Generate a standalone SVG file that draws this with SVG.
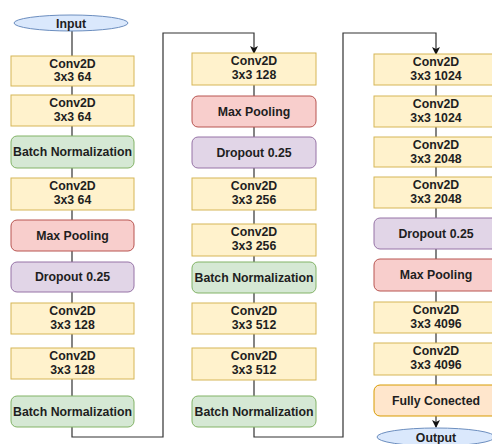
<svg xmlns="http://www.w3.org/2000/svg" width="492" height="444" viewBox="0 0 492 444">
  <style>
    .conv { fill: #fff2cc; stroke: #d6b656; stroke-width: 1; }
    .bn   { fill: #d5e8d4; stroke: #82b366; stroke-width: 1; }
    .pool { fill: #f8cecc; stroke: #b85450; stroke-width: 1; }
    .drop { fill: #e1d5e7; stroke: #9673a6; stroke-width: 1; }
    .fc   { fill: #ffe6cc; stroke: #d79b00; stroke-width: 1; }
    .io   { fill: #dae8fc; stroke: #6c8ebf; stroke-width: 1; }
    text  { font-family: "Liberation Sans", Arial, Helvetica, sans-serif; font-weight: bold; font-size: 12.3px; fill: #1e1e1e; text-anchor: middle; }
    .edge { fill: none; stroke: #333333; stroke-width: 1.2; }
  </style>
  <defs>
    <marker id="arrow" markerWidth="8" markerHeight="8" refX="7" refY="4" orient="auto" markerUnits="userSpaceOnUse">
      <path d="M0,0 L8,4 L0,8 L2,4 Z" fill="#111111"/>
    </marker>
  </defs>

  <rect width="492" height="444" fill="#ffffff"/>

  <!-- connectors -->
  <g id="connectors">
    <!-- column 1 chain -->
    <path class="edge" d="M72,31 V56 M72,86 V95 M72,126 V136 M72,168 V178 M72,210 V220 M72,251 V262 M72,292 V303 M72,334 V348 M72,379 V396"/>
    <!-- column 1 to column 2 -->
    <path class="edge" d="M72,427 V437 H163 V33 H254 V53" marker-end="url(#arrow)"/>
    <!-- column 2 chain -->
    <path class="edge" d="M254,85 V96 M254,127 V137 M254,168 V178 M254,210 V224 M254,256 V262 M254,293 V303 M254,334 V348 M254,380 V396"/>
    <!-- column 2 to column 3 -->
    <path class="edge" d="M254,427 V437 H343 V33 H436 V54" marker-end="url(#arrow)"/>
    <!-- column 3 chain -->
    <path class="edge" d="M436,85 V96 M436,127 V137 M436,167 V177 M436,208 V218 M436,249 V259 M436,291 V302 M436,333 V343 M436,375 V385"/>
    <path class="edge" d="M436,416 V427" marker-end="url(#arrow)"/>
  </g>

  <!-- column 1 -->
  <g id="input"><ellipse class="io" cx="71" cy="23" rx="57" ry="8"/><text x="71" y="27.5">Input</text></g>
  <g id="c1_conv1"><rect class="conv" x="11" y="56" width="123" height="30"/><text x="72.5" y="68">Conv2D</text><text x="72.5" y="81">3x3 64</text></g>
  <g id="c1_conv2"><rect class="conv" x="11" y="95" width="123" height="31"/><text x="72.5" y="107">Conv2D</text><text x="72.5" y="121">3x3 64</text></g>
  <g id="c1_bn1"><rect class="bn" x="11" y="136" width="123" height="32" rx="6"/><text x="72.5" y="156">Batch Normalization</text></g>
  <g id="c1_conv3"><rect class="conv" x="11" y="178" width="123" height="32"/><text x="72.5" y="190">Conv2D</text><text x="72.5" y="204">3x3 64</text></g>
  <g id="c1_pool"><rect class="pool" x="11" y="220" width="123" height="31" rx="6"/><text x="72.5" y="240">Max Pooling</text></g>
  <g id="c1_drop"><rect class="drop" x="11" y="262" width="123" height="30" rx="6"/><text x="72.5" y="281">Dropout 0.25</text></g>
  <g id="c1_conv4"><rect class="conv" x="11" y="303" width="123" height="31"/><text x="72.5" y="315">Conv2D</text><text x="72.5" y="329">3x3 128</text></g>
  <g id="c1_conv5"><rect class="conv" x="11" y="348" width="123" height="31"/><text x="72.5" y="360">Conv2D</text><text x="72.5" y="374">3x3 128</text></g>
  <g id="c1_bn2"><rect class="bn" x="11" y="396" width="123" height="31" rx="6"/><text x="72.5" y="416">Batch Normalization</text></g>

  <!-- column 2 -->
  <g id="c2_conv1"><rect class="conv" x="192" y="53" width="124" height="32"/><text x="254" y="65">Conv2D</text><text x="254" y="79">3x3 128</text></g>
  <g id="c2_pool"><rect class="pool" x="192" y="96" width="124" height="31" rx="6"/><text x="254" y="116">Max Pooling</text></g>
  <g id="c2_drop"><rect class="drop" x="192" y="137" width="124" height="31" rx="6"/><text x="254" y="157">Dropout 0.25</text></g>
  <g id="c2_conv2"><rect class="conv" x="192" y="178" width="124" height="32"/><text x="254" y="190">Conv2D</text><text x="254" y="204">3x3 256</text></g>
  <g id="c2_conv3"><rect class="conv" x="192" y="224" width="124" height="32"/><text x="254" y="236">Conv2D</text><text x="254" y="250">3x3 256</text></g>
  <g id="c2_bn1"><rect class="bn" x="192" y="262" width="124" height="31" rx="6"/><text x="254" y="282">Batch Normalization</text></g>
  <g id="c2_conv4"><rect class="conv" x="192" y="303" width="124" height="31"/><text x="254" y="315">Conv2D</text><text x="254" y="329">3x3 512</text></g>
  <g id="c2_conv5"><rect class="conv" x="192" y="348" width="124" height="32"/><text x="254" y="360">Conv2D</text><text x="254" y="374">3x3 512</text></g>
  <g id="c2_bn2"><rect class="bn" x="192" y="396" width="124" height="31" rx="6"/><text x="254" y="416">Batch Normalization</text></g>

  <!-- column 3 -->
  <g id="c3_conv1"><rect class="conv" x="374" y="54" width="124" height="31"/><text x="436" y="66">Conv2D</text><text x="436" y="80">3x3 1024</text></g>
  <g id="c3_conv2"><rect class="conv" x="374" y="96" width="124" height="31"/><text x="436" y="108">Conv2D</text><text x="436" y="122">3x3 1024</text></g>
  <g id="c3_conv3"><rect class="conv" x="374" y="137" width="124" height="30"/><text x="436" y="149">Conv2D</text><text x="436" y="163">3x3 2048</text></g>
  <g id="c3_conv4"><rect class="conv" x="374" y="177" width="124" height="31"/><text x="436" y="189">Conv2D</text><text x="436" y="203">3x3 2048</text></g>
  <g id="c3_drop"><rect class="drop" x="374" y="218" width="124" height="31" rx="6"/><text x="436" y="238">Dropout 0.25</text></g>
  <g id="c3_pool"><rect class="pool" x="374" y="259" width="124" height="32" rx="6"/><text x="436" y="279">Max Pooling</text></g>
  <g id="c3_conv5"><rect class="conv" x="374" y="302" width="124" height="31"/><text x="436" y="314">Conv2D</text><text x="436" y="328">3x3 4096</text></g>
  <g id="c3_conv6"><rect class="conv" x="374" y="343" width="124" height="32"/><text x="436" y="355">Conv2D</text><text x="436" y="369">3x3 4096</text></g>
  <g id="c3_fc"><rect class="fc" x="374" y="385" width="124" height="31" rx="6"/><text x="436" y="405">Fully Conected</text></g>
  <g id="output"><ellipse class="io" cx="436" cy="437" rx="59" ry="9"/><text x="436" y="441.5">Output</text></g>
</svg>
